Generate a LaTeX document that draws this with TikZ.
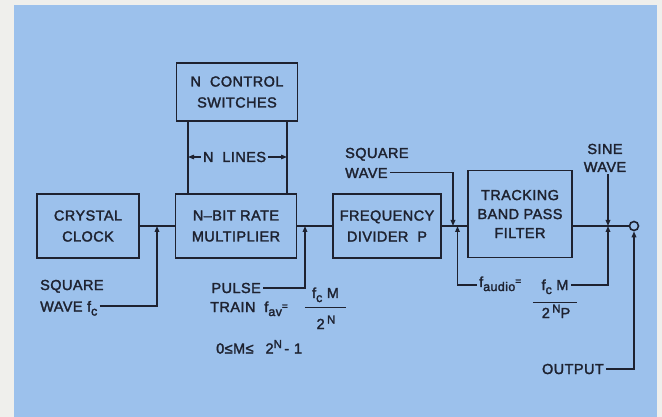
\documentclass[tikz,border=0pt]{standalone}
\usepackage{fontspec}
\setmainfont{Liberation Sans}[FakeBold=2, LetterSpace=3]
\usetikzlibrary{arrows.meta}
\definecolor{ink}{HTML}{1E2230}
\definecolor{bluebg}{HTML}{9CC1EC}
\definecolor{pagebg}{HTML}{EFEFEC}
\newcommand{\lblfont}{\fontsize{14.5}{21}\selectfont}
\newcommand{\sbs}[1]{\raisebox{-4pt}{\fontsize{12.5}{12}\selectfont #1}}
\newcommand{\sps}[1]{\raisebox{5.5pt}{\fontsize{11.5}{12}\selectfont #1}}
\newcommand{\smeq}{\raisebox{2.5pt}{\fontsize{10}{10}\selectfont =}}
\begin{document}
\begin{tikzpicture}[x=1pt,y=-1pt,
  box/.style={draw=ink, line width=1.6pt, align=center, inner sep=0pt, font=\lblfont, text=ink},
  lbl/.style={font=\lblfont, text=ink, inner sep=2pt},
  wire/.style={draw=ink, line width=1.6pt},
  thinwire/.style={draw=ink, line width=1.2pt},
  arr/.style={-{Triangle[length=6pt,width=4.5pt]}},
  fracbar/.style={draw=ink, line width=1.4pt}]

\useasboundingbox (0,0) rectangle (662,417);
\fill[pagebg] (0,0) rectangle (662,417);
\fill[bluebg] (13.5,5) rectangle (656.5,417);

% blocks
\node[box, minimum width=102pt, minimum height=64pt] (clock) at (88,226) {CRYSTAL\\CLOCK};
\node[box, minimum width=121pt, minimum height=64pt] (mult) at (236,226) {N–BIT RATE\\MULTIPLIER};
\node[box, minimum width=108pt, minimum height=64pt] (div) at (387,226) {FREQUENCY\\DIVIDER\ \ P};
\node[box, minimum width=104pt, minimum height=87pt] (filt) at (520,214) {TRACKING\\[-2pt]BAND PASS\\[-2pt]FILTER};
\node[box, minimum width=121pt, minimum height=58pt] (ctrl) at (237,92) {N\ \ CONTROL\\SWITCHES};
\node[circle, draw=ink, line width=1.6pt, minimum size=9pt, inner sep=0pt] (out) at (634,226) {};

% junction points on the main line
\coordinate (j1) at (157,226);
\coordinate (j2) at (305,226);
\coordinate (j3) at (453,226);
\coordinate (j4) at (457.5,226);
\coordinate (j6) at (608,226);

% main signal path
\draw[wire] (clock.east) -- (mult.west);
\draw[wire] (mult.east) -- (div.west);
\draw[wire] (div.east) -- (div.east -| filt.west);
\draw[wire] (div.east -| filt.east) -- (out.west);

% control lines
\coordinate (cl) at ([xshift=12.3pt]ctrl.south west);
\coordinate (cr) at ([xshift=-11.3pt]ctrl.south east);
\draw[wire] (cl) -- (cl |- mult.north);
\draw[wire] (cr) -- (cr |- mult.north);
\node[lbl] (nl) at (234.5,157) {N\ \ LINES};
\draw[thinwire, arr] (nl.west) -- (nl.west -| cl);
\draw[thinwire, arr] (nl.east) -- (nl.east -| cr);

% square wave input
\node[lbl, anchor=base west] (sq1) at (38,290) {SQUARE};
\node[lbl, anchor=base west] (sq2) at (38,311.5) {WAVE f\sbs{c}};
\draw[wire, arr] ([yshift=5.5pt]sq2.base east) -| (j1);

% pulse train
\node[lbl, anchor=base east] (pulse) at (263,293) {PULSE};
\node[lbl, anchor=base west] (train) at (208,312) {TRAIN\ \ f\sbs{av}\smeq};
\node[lbl, anchor=base, inner sep=0pt, text depth=9pt, minimum width=41pt] (pnum) at (325.5,298) {f\sbs{c} M};
\node[lbl, anchor=base] (pden) at (326,329) {2\,\sps{N}};
\draw[fracbar] (pnum.south west) -- (pnum.south east);
\draw[wire, arr] ([yshift=5pt]pulse.base east) -| (j2);
\node[lbl, anchor=base west] (range) at (214,353.5) {0≤M≤\hspace{12pt}2\sps{N}\,-\,\,1};

% square wave at the filter
\node[lbl, anchor=base west] (sw1) at (343,158) {SQUARE};
\node[lbl, anchor=base west] (sw2) at (343,178) {WAVE};
\draw[wire, arr] ([yshift=5.5pt]sw2.base east) -| (j3);

% sine wave
\node[lbl] (sn1) at (605,149) {SINE};
\node[lbl] (sn2) at (605,167) {WAVE};
\draw[wire, arr] (sn2.south -| j6) -- (j6);

% f audio
\node[lbl, anchor=base west] (fa) at (477,287) {f\sbs{audio}\smeq};
\node[lbl, anchor=base, inner sep=0pt, text depth=12pt, minimum width=44pt] (fnum) at (555,290) {f\sbs{c} M};
\node[lbl, anchor=base] (fden) at (556,318) {2\,\sps{N}P};
\draw[fracbar] (fnum.south west) -- (fnum.south east);
\draw[wire, arr] ([yshift=2pt]fa.base west) -| (j4);
\coordinate (fae) at (571,285);
\draw[wire, arr] (fae) -| (j6);

% output
\node[lbl, anchor=base east] (outp) at (606,374) {OUTPUT};
\draw[wire, arr] ([yshift=5pt]outp.base east) -| (out.south);
\end{tikzpicture}
\end{document}
